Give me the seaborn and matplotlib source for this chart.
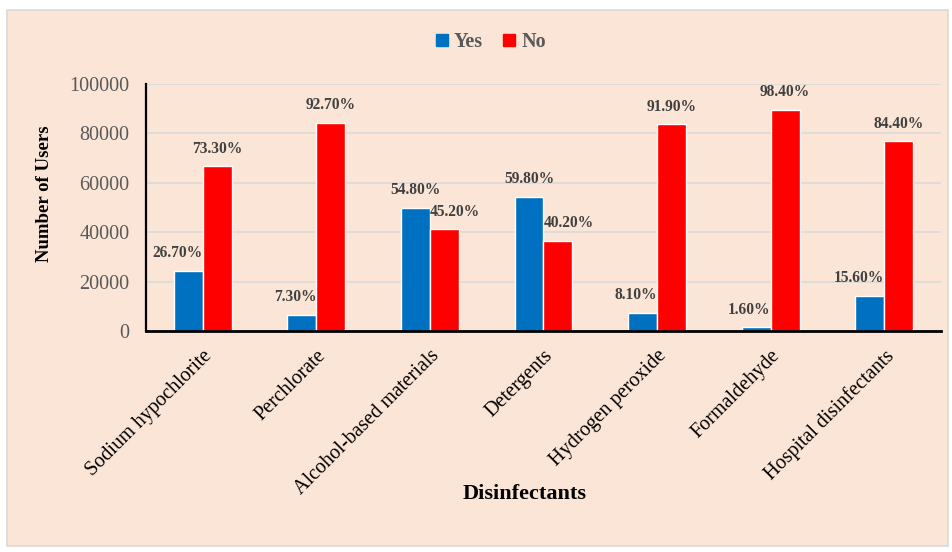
import numpy as np
import pandas as pd
import matplotlib
matplotlib.use("Agg")
import matplotlib.pyplot as plt
import seaborn as sns
from matplotlib.patches import Rectangle

# ---------------- data ----------------
categories = ["Sodium hypochlorite", "Perchlorate", "Alcohol-based materials",
              "Detergents", "Hydrogen peroxide", "Formaldehyde", "Hospital disinfectants"]
yes_users = [24300, 6650, 49850, 54400, 7350, 1450, 14200]
no_users = [66700, 84350, 41150, 36600, 83650, 89550, 76800]
yes_pct = ["26.70%", "7.30%", "54.80%", "59.80%", "8.10%", "1.60%", "15.60%"]
no_pct = ["73.30%", "92.70%", "45.20%", "40.20%", "91.90%", "98.40%", "84.40%"]
series = ["Yes", "No"]
y_ticks = [0, 20000, 40000, 60000, 80000, 100000]

df = pd.DataFrame({
    "Disinfectant": categories * 2,
    "Users": yes_users + no_users,
    "Response": ["Yes"] * len(categories) + ["No"] * len(categories),
})

# ---------------- style ----------------
sns.set_theme(style="white")
plt.rcParams["font.family"] = ["Liberation Serif", "DejaVu Serif"]

BG = "#FBE5D6"
BLUE = "#0070C0"
RED = "#FF0000"
TICK_C = "#595959"
LAB_C = "#404040"

W, H = 953, 552
fig = plt.figure(figsize=(W / 100, H / 100), dpi=100, facecolor="white")
fig.patches.append(Rectangle((7 / W, 1 - 546 / H), (948 - 7) / W, (546 - 10) / H,
                             transform=fig.transFigure, facecolor=BG,
                             edgecolor="#D9D9D9", linewidth=1.2, zorder=-10))

ax = fig.add_axes([146 / W, 1 - 331 / H, (941 - 146) / W, (331 - 84) / H])
ax.set_facecolor("none")

sns.barplot(data=df, x="Disinfectant", y="Users", hue="Response",
            hue_order=series, order=categories,
            palette={"Yes": BLUE, "No": RED}, saturation=1, width=0.51,
            ax=ax, legend=False, errorbar=None)

ax.set_ylim(0, 100000)
ax.set_yticks(y_ticks)
ax.set_yticklabels([str(t) for t in y_ticks], fontsize=14.5, color=TICK_C)
ax.yaxis.grid(True, color="#D9D9D9", linewidth=1.2)
ax.set_axisbelow(True)
ax.tick_params(axis="both", length=0)
ax.tick_params(axis="y", pad=12)
ax.tick_params(axis="x", pad=11)
ax.set_xticks(range(len(categories)))
ax.set_xticklabels(categories, rotation=45, ha="right", rotation_mode="anchor",
                   fontsize=14.5, color="black")
ax.set_xlabel("")
ax.set_ylabel("")
for s in ["top", "right"]:
    ax.spines[s].set_visible(False)
ax.spines["left"].set_color("black")
ax.spines["left"].set_linewidth(1.6)
ax.spines["bottom"].set_color("black")
ax.spines["bottom"].set_linewidth(2)

# data labels: taller bar centred, shorter bar label shifted outward
yes_bars = ax.containers[0]
no_bars = ax.containers[1]
for i in range(len(categories)):
    by, bn = yes_bars[i], no_bars[i]
    hy, hn = by.get_height(), bn.get_height()
    if hy >= hn:
        ay = (by.get_x() + by.get_width() / 2, "center")
        an = (bn.get_x(), "left")
    else:
        ay = (by.get_x() + by.get_width(), "right")
        an = (bn.get_x() + bn.get_width() / 2, "center")
    ax.annotate(yes_pct[i], (ay[0], hy), xytext=(0, 7), textcoords="offset points",
                ha=ay[1], va="bottom", fontsize=11.2, fontweight="bold", color=LAB_C)
    ax.annotate(no_pct[i], (an[0], hn), xytext=(0, 7), textcoords="offset points",
                ha=an[1], va="bottom", fontsize=11.2, fontweight="bold", color=LAB_C)

# legend
handles = [Rectangle((0, 0), 1, 1, color=BLUE), Rectangle((0, 0), 1, 1, color=RED)]
fig.legend(handles, series, loc="center", bbox_to_anchor=(491 / W, 1 - 42 / H),
           ncol=2, frameon=False, handlelength=0.6, handleheight=0.6,
           handletextpad=0.3, columnspacing=1.0,
           prop={"size": 14.5, "weight": "bold"}, labelcolor=TICK_C)

fig.text(45 / W, 1 - 194 / H, "Number of Users", rotation=90, ha="center",
         va="center", fontsize=13.5, fontweight="bold", color="black")
fig.text(525 / W, 1 - 494 / H, "Disinfectants", ha="center", va="center",
         fontsize=16, fontweight="bold", color="black")

fig.savefig("out.png", dpi=100, facecolor="white")
